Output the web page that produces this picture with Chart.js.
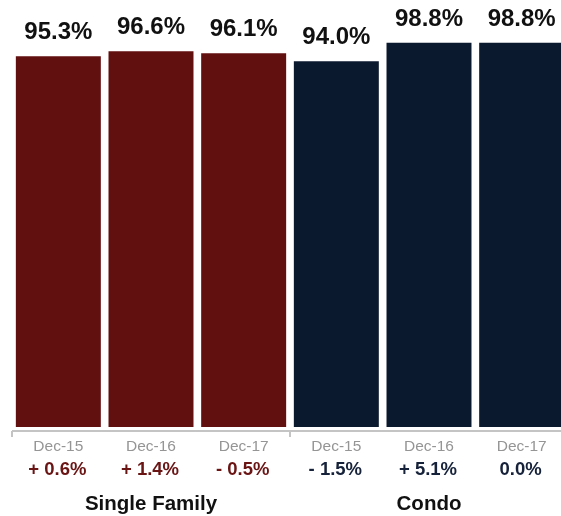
<!DOCTYPE html>
<html>
<head>
<meta charset="utf-8">
<script src="https://cdn.jsdelivr.net/npm/chart.js@4"></script>
<style>
  html, body { margin: 0; padding: 0; background: #fff; overflow: hidden; }
  #wrap { width: 570px; height: 516px; }
</style>
</head>
<body>
<div id="wrap"><canvas id="c" width="570" height="516"></canvas></div>
<script>
// ---- data ----
const periods = ['Dec-15', 'Dec-16', 'Dec-17', 'Dec-15', 'Dec-16', 'Dec-17'];
const values = [95.3, 96.6, 96.1, 94.0, 98.8, 98.8];
const changes = ['+ 0.6%', '+ 1.4%', '- 0.5%', '- 1.5%', '+ 5.1%', '0.0%'];
const groupOf = [0, 0, 0, 1, 1, 1];
const groups = ['Single Family', 'Condo'];

const barCols = ['#620f0f', '#0b192e'];
const txtCols = ['#6a1414', '#16223a'];
const FONT = '"Liberation Sans", Arial, Helvetica, sans-serif';

const labelsPlugin = {
  id: 'labels',
  afterDatasetsDraw(chart) {
    const { ctx, chartArea: a, scales: { x } } = chart;
    const meta = chart.getDatasetMeta(0);
    const step = x.getPixelForValue(1) - x.getPixelForValue(0);
    ctx.save();
    // axis line + group ticks
    ctx.strokeStyle = '#c4c4c4';
    ctx.lineWidth = 2;
    ctx.beginPath();
    ctx.moveTo(x.getPixelForValue(0) - step / 2, a.bottom);
    ctx.lineTo(a.right + 10, a.bottom);
    ctx.stroke();
    groupOf.forEach((g, i) => {
      if (i === 0 || groupOf[i - 1] !== g) {
        const px = x.getPixelForValue(i) - step / 2;
        ctx.beginPath();
        ctx.moveTo(px, a.bottom);
        ctx.lineTo(px, a.bottom + 6);
        ctx.stroke();
      }
    });
    ctx.textAlign = 'center';
    ctx.textBaseline = 'alphabetic';
    meta.data.forEach((bar, i) => {
      // value on top
      ctx.fillStyle = '#111';
      ctx.font = 'bold 24px ' + FONT;
      ctx.fillText(values[i].toFixed(1) + '%', bar.x, bar.y - 17);
      // period
      ctx.fillStyle = '#959595';
      ctx.font = '15.5px ' + FONT;
      ctx.fillText(periods[i], bar.x, a.bottom + 20);
      // change
      ctx.fillStyle = txtCols[groupOf[i]];
      ctx.font = 'bold 18.5px ' + FONT;
      ctx.fillText(changes[i], bar.x - 1, a.bottom + 44);
    });
    // group names under middle of each group
    ctx.fillStyle = '#111';
    ctx.font = 'bold 20.5px ' + FONT;
    groups.forEach((name, g) => {
      const idx = groupOf.map((v, i) => v === g ? i : -1).filter(i => i >= 0);
      const cx = (x.getPixelForValue(idx[0]) + x.getPixelForValue(idx[idx.length - 1])) / 2;
      ctx.fillText(name, cx, a.bottom + 79);
    });
    ctx.restore();
  }
};

new Chart(document.getElementById('c'), {
  type: 'bar',
  data: {
    labels: periods.map((p, i) => i),
    datasets: [{
      data: values,
      backgroundColor: values.map((_, i) => barCols[groupOf[i]]),
      borderWidth: 0,
      categoryPercentage: 1,
      barPercentage: 0.917
    }]
  },
  options: {
    responsive: false,
    animation: false,
    devicePixelRatio: 1,
    layout: { padding: { left: 12, right: 2, top: 38, bottom: 85 } },
    plugins: { legend: { display: false }, tooltip: { enabled: false } },
    scales: {
      x: { display: false },
      y: { display: false, min: -1, max: 100 }
    }
  },
  plugins: [labelsPlugin]
});
</script>
</body>
</html>
